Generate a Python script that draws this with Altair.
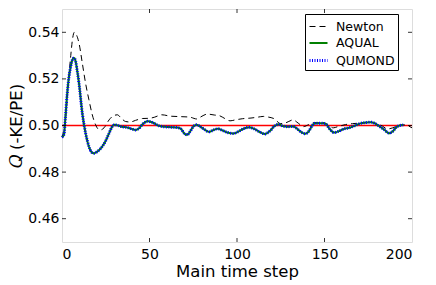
import altair as alt
import pandas as pd

# ---- data ----
newton_t = [0, 2, 3, 5, 6, 7, 8.2, 9.7, 11.6, 13.5, 15.4, 17.3, 19.2, 20.5, 22, 24, 26.9, 29,
            31.6, 34, 36.4, 39, 42, 46, 50, 53, 57, 62, 68, 73, 77, 80, 83, 87, 90, 93, 96,
            99, 103, 108, 112, 115, 118, 121, 125, 128, 132, 135, 138, 141, 144, 149, 152,
            155, 158, 162, 166, 170, 174, 177, 180, 183, 186, 189, 192, 195, 198, 200]
newton_q = [0.4950, 0.5030, 0.5120, 0.5300, 0.5370, 0.5400, 0.5390, 0.5354, 0.5268, 0.5180,
            0.5110, 0.5046, 0.5003, 0.4986, 0.4981, 0.4990, 0.5024, 0.5040, 0.5046, 0.5030,
            0.5017, 0.5015, 0.5022, 0.5030, 0.5031, 0.5036, 0.5046, 0.5040, 0.5038, 0.5036,
            0.5028, 0.5040, 0.5049, 0.5045, 0.5042, 0.5030, 0.5020, 0.5024, 0.5029, 0.5032,
            0.5036, 0.5039, 0.5036, 0.5030, 0.5008, 0.5012, 0.5024, 0.5010, 0.4995, 0.5004,
            0.5012, 0.5012, 0.5002, 0.4990, 0.4996, 0.5004, 0.5008, 0.5010, 0.5012, 0.5013,
            0.5008, 0.4998, 0.4985, 0.4990, 0.4998, 0.5003, 0.4998, 0.4990]

aqual_t = [0, 1.1, 2, 3, 4, 5, 6, 6.9, 7.8, 8.7, 9.7, 11.6, 13.5, 15.4, 17, 18.3, 20, 23, 25,
           26.9, 28.5, 30, 32, 34, 37, 40, 42, 44, 46, 49, 52, 55, 58, 62, 66, 68, 70, 71.5,
           73, 75, 77, 79, 81, 84, 87, 89, 92, 95, 98, 101, 104, 107, 110, 113, 116, 119,
           121.5, 123.7, 126, 129, 132, 135, 137, 139, 141, 143, 145, 148, 150.5, 153, 155.5,
           158, 161, 164, 167, 170, 173, 176.5, 179, 181.5, 184, 187, 189, 191, 193, 195]
aqual_q = [0.4950, 0.4961, 0.5040, 0.5139, 0.5210, 0.5254, 0.5283, 0.5290, 0.5275, 0.5235,
           0.5182, 0.5053, 0.4967, 0.4910, 0.4885, 0.4881, 0.4887, 0.4910, 0.4935, 0.4967,
           0.4993, 0.5003, 0.5000, 0.4995, 0.4992, 0.4985, 0.4981, 0.4988, 0.5005, 0.5018,
           0.5012, 0.5000, 0.4995, 0.4993, 0.4991, 0.4985, 0.4965, 0.4960, 0.4972, 0.4995,
           0.5003, 0.4995, 0.4985, 0.4973, 0.4982, 0.4986, 0.4978, 0.4969, 0.4966, 0.4975,
           0.4987, 0.4992, 0.4985, 0.4972, 0.4964, 0.4978, 0.4998, 0.5005, 0.4998, 0.4995,
           0.4996, 0.4982, 0.4970, 0.4965, 0.4975, 0.5000, 0.5010, 0.5010, 0.5008, 0.4985,
           0.4970, 0.4975, 0.4985, 0.4990, 0.4998, 0.5008, 0.5012, 0.5014, 0.5008, 0.4996,
           0.4983, 0.4967, 0.4975, 0.4992, 0.5000, 0.5002]

qumond_t = list(aqual_t)
qumond_q = list(aqual_q)

series_names = ["Newton", "AQUAL", "QUMOND"]
series_colors = ["black", "#008000", "#0000ff"]
series_dash = [[6, 4], [1, 0], [1, 1.5]]
series_width = [1.0, 3.0, 1.3]

x_ticks = [50, 100, 150]
y_ticks = [0.46, 0.48, 0.50, 0.52, 0.54]
reference_q = [0.5]

W, H = 350, 233
FONT = "DejaVu Sans"

rows = []
for name, ts, qs in [("Newton", newton_t, newton_q), ("AQUAL", aqual_t, aqual_q),
                     ("QUMOND", qumond_t, qumond_q)]:
    for t, q in zip(ts, qs):
        rows.append({"t": t, "q": q, "series": name})
df = pd.DataFrame(rows)

xscale = alt.Scale(domain=[0, 200], nice=False, zero=False)
yscale = alt.Scale(domain=[0.45, 0.55], nice=False, zero=False)


def make_legend():
    return alt.Legend(title=None, orient="none", legendX=243, legendY=5,
                      symbolType="stroke", symbolSize=324, labelFontSize=12.5,
                      labelFont=FONT, labelColor="black", strokeColor="black",
                      fillColor="white", padding=3, rowPadding=0,
                      cornerRadius=0, labelOffset=7)


ref = alt.Chart(pd.DataFrame({"q": reference_q})).mark_rule(color="#ff0000", strokeWidth=1.5).encode(
    y=alt.Y("q:Q", scale=yscale)
)

lines = alt.Chart(df).mark_line(interpolate="monotone").encode(
    x=alt.X("t:Q", scale=xscale,
            axis=alt.Axis(values=[0, 50, 100, 150, 200], format="d", tickSize=0, labelPadding=5,
                          domain=False, grid=False, labelFontSize=14, labelColor="black",
                          title="Main time step", titleFontSize=16.5, titleFontWeight="normal",
                          titleColor="black", titlePadding=2, labelFont=FONT, titleFont=FONT)),
    y=alt.Y("q:Q", scale=yscale,
            axis=alt.Axis(values=y_ticks, format=".2f", tickSize=0, labelPadding=3, domain=False,
                          grid=False, labelFontSize=14, labelColor="black",
                          title="\U0001D444 (-KE/PE)", titleFontSize=16.5, titleFontWeight="normal",
                          titleColor="black", titlePadding=3, labelFont=FONT, titleFont=FONT)),
    color=alt.Color("series:N", scale=alt.Scale(domain=series_names, range=series_colors),
                    legend=make_legend()),
    strokeDash=alt.StrokeDash("series:N", scale=alt.Scale(domain=series_names, range=series_dash),
                              legend=make_legend()),
    strokeWidth=alt.StrokeWidth("series:N", scale=alt.Scale(domain=series_names, range=series_width),
                                legend=make_legend()),
    order=alt.Order("t:Q"),
)

tick_len = 4
xt = pd.DataFrame({"t": x_ticks})
yt = pd.DataFrame({"q": y_ticks})
xticks_bottom = alt.Chart(xt).mark_rule(color="black", strokeWidth=0.8).encode(
    x=alt.X("t:Q", scale=xscale), y=alt.value(H - tick_len), y2=alt.value(H))
xticks_top = alt.Chart(xt).mark_rule(color="black", strokeWidth=0.8).encode(
    x=alt.X("t:Q", scale=xscale), y=alt.value(0), y2=alt.value(tick_len))
yticks_left = alt.Chart(yt).mark_rule(color="black", strokeWidth=0.8).encode(
    y=alt.Y("q:Q", scale=yscale), x=alt.value(0), x2=alt.value(tick_len))
yticks_right = alt.Chart(yt).mark_rule(color="black", strokeWidth=0.8).encode(
    y=alt.Y("q:Q", scale=yscale), x=alt.value(W - tick_len), x2=alt.value(W))

chart = alt.layer(ref, lines, xticks_bottom, xticks_top, yticks_left, yticks_right).properties(
    width=W, height=H, padding=0
).configure_view(stroke="black", strokeWidth=1.2).configure(background="white")

chart.save("out.html", embed_options={"renderer": "svg", "actions": False})
